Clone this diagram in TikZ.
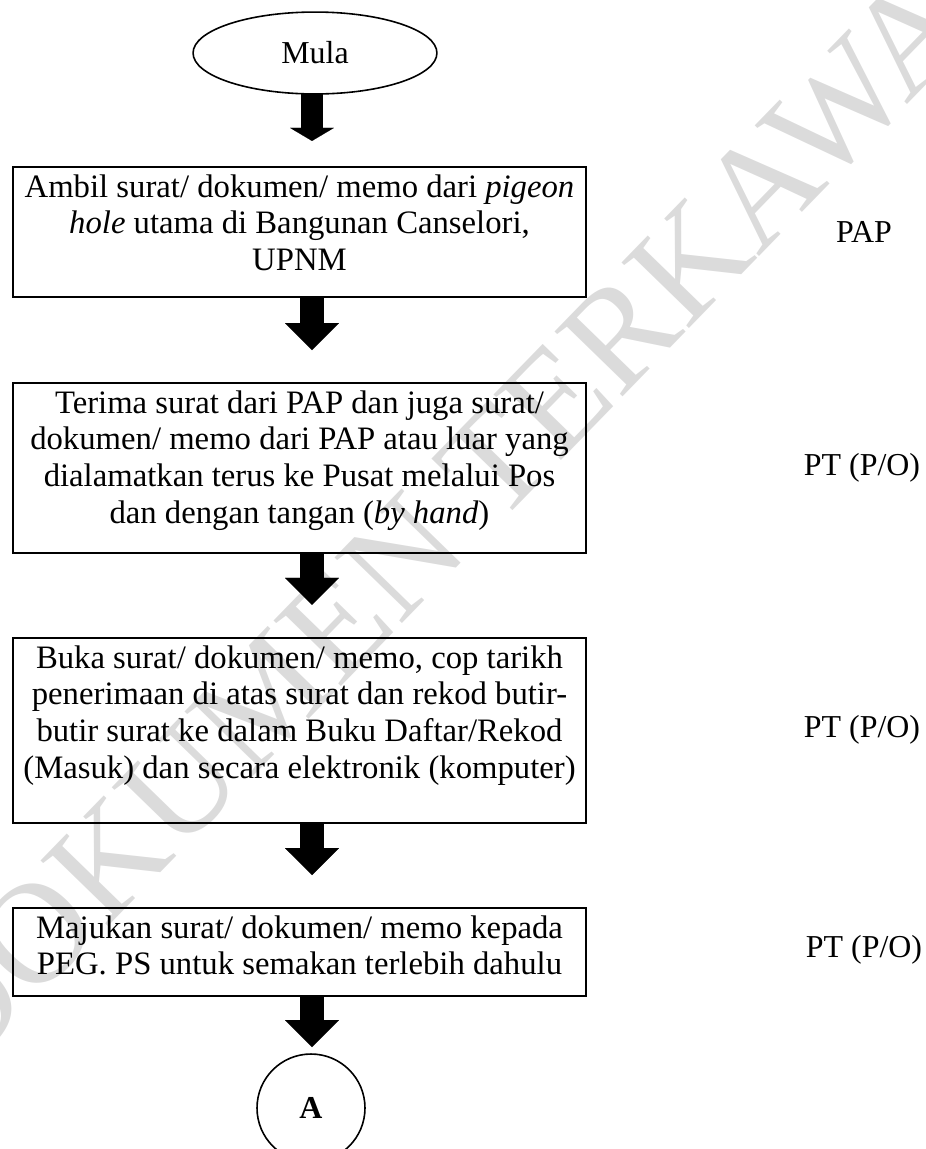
\documentclass[tikz,border=0pt]{standalone}
\usepackage{fontspec}
\setmainfont{Liberation Serif}
\usetikzlibrary{arrows.meta,shapes.geometric}

\tikzset{
  body/.style={font=\fontsize{12pt}{13.8pt}\selectfont},
  stepbox/.style={draw, line width=0.75pt, rectangle, inner sep=0pt, outer sep=0pt,
    minimum width=215.45pt},
  steptext/.style={font=\fontsize{12.3pt}{13.8pt}\selectfont, inner sep=0pt, align=center,
    anchor=north, yshift=-2.6pt},
  terminal/.style={body, draw, line width=0.6pt, ellipse, inner sep=0pt, outer sep=0pt,
    minimum width=91.7pt, minimum height=30.8pt},
  joint/.style={body, draw, line width=0.6pt, circle, inner sep=0pt, outer sep=0pt,
    minimum size=40.6pt, font=\fontsize{12pt}{13.8pt}\selectfont\bfseries},
  actor/.style={body, inner sep=0pt},
  blk/.style={line width=9pt, -{Triangle[width=20.3pt, length=10.15pt, line width=0.01pt]}},
  blksmall/.style={line width=8.3pt, -{Triangle[width=16.5pt, length=4.9pt, line width=0.01pt]}},
  stamptext/.style={text=black!14, inner sep=0pt, font=\fontsize{54pt}{54pt}\selectfont}
}

\begin{document}
\begin{tikzpicture}[x=0.376pt, y=-0.376pt]
  \useasboundingbox (0,0) rectangle (926,1149);
  \clip (0,0) rectangle (926,1149);

  % background stamp
  \node[stamptext, rotate=45.8] (stamp) at (467,491) {DOKUMEN TERKAWAL};

  % flow steps
  \node[terminal] (mula) at (315,53) {Mula};

  \node[stepbox, minimum height=48.9pt] (s1) at (299.5,232) {};
  \node[steptext] (s1t) at (s1.north)
    {Ambil surat/ dokumen/ memo dari \textit{pigeon}\\
     \textit{hole} utama di Bangunan Canselori,\\
     UPNM};

  \node[stepbox, minimum height=63.9pt] (s2) at (299.5,468) {};
  \node[steptext] (s2t) at (s2.north)
    {Terima surat dari PAP dan juga surat/\\
     dokumen/ memo dari PAP atau luar yang\\
     dialamatkan terus ke Pusat melalui Pos\\
     dan dengan tangan (\textit{by hand})};

  \node[stepbox, minimum height=69.6pt] (s3) at (299.5,730.5) {};
  \node[steptext] (s3t) at (s3.north)
    {Buka surat/ dokumen/ memo, cop tarikh\\
     penerimaan di atas surat dan rekod butir-\\
     butir surat ke dalam Buku Daftar/Rekod\\
     (Masuk) dan secara elektronik (komputer)};

  \node[stepbox, minimum height=33.1pt] (s4) at (299.5,952) {};
  \node[steptext] (s4t) at (s4.north)
    {Majukan surat/ dokumen/ memo kepada\\
     PEG. PS untuk semakan terlebih dahulu};

  \node[joint] (a) at (311,1108) {A};

  % responsible parties
  \node[actor] (r1) at (864,232) {PAP};
  \node[actor] (r2) at (862,468) {PT (P/O)};
  \node[actor] (r3) at (862,730) {PT (P/O)};
  \node[actor] (r4) at (864,950) {PT (P/O)};

  % block arrows
  \coordinate (ax) at (312,0);
  \draw[blksmall, shorten >=9.8pt] (ax |- mula.south) -- (ax |- s1.north);
  \draw[blk, shorten >=12.4pt] (ax |- s1.south) -- (ax |- s2.north);
  \draw[blk, shorten >=12.4pt] (ax |- s2.south) -- (ax |- s3.north);
  \draw[blk, shorten >=12.4pt] (ax |- s3.south) -- (ax |- s4.north);
  \draw[blk, shorten >=2.6pt] (ax |- s4.south) -- (ax |- a.north);
\end{tikzpicture}
\end{document}
